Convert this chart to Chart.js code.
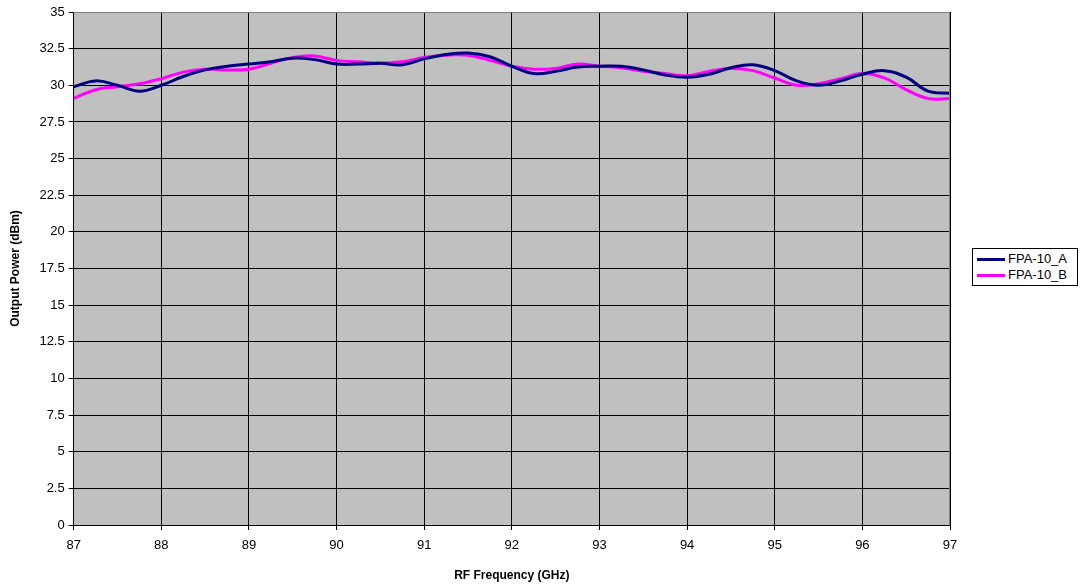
<!DOCTYPE html>
<html>
<head>
<meta charset="utf-8">
<script src="https://cdn.jsdelivr.net/npm/chart.js@4"></script>
<style>
  html, body { margin: 0; padding: 0; background: #fff; }
  #wrap { position: relative; width: 1085px; height: 587px; }
  #legend {
    position: absolute; left: 972px; top: 248px; width: 106px;
    border: 1px solid #000; background: #fff;
    font-family: "Liberation Sans", Arial, sans-serif; font-size: 13px; color: #000;
    padding: 2px 0 2px 4px; box-sizing: border-box;
  }
  #legend div { height: 16px; line-height: 16px; white-space: nowrap; }
  #legend span.l { display: inline-block; width: 28px; height: 3px; vertical-align: middle; margin-right: 3px; }
</style>
</head>
<body>
<div id="wrap">
  <canvas id="chart" width="1085" height="587"></canvas>
  <div id="legend">
    <div><span class="l" style="background:#000080"></span>FPA-10_A</div>
    <div><span class="l" style="background:#ff00ff"></span>FPA-10_B</div>
  </div>
</div>
<script>
// Frecuencias (GHz) y potencia de salida (dBm)
const freqs = [87, 87.25, 87.5, 87.75, 88, 88.25, 88.5, 88.75, 89, 89.25, 89.5, 89.75,
  90, 90.25, 90.5, 90.75, 91, 91.25, 91.5, 91.75, 92, 92.25, 92.5, 92.75,
  93, 93.25, 93.5, 93.75, 94, 94.25, 94.5, 94.75, 95, 95.25, 95.5, 95.75,
  96, 96.25, 96.5, 96.75, 97];
const fpaA = [29.9, 30.3, 30.0, 29.6, 30.0, 30.6, 31.05, 31.3, 31.45, 31.6, 31.85, 31.75,
  31.45, 31.45, 31.5, 31.4, 31.8, 32.1, 32.2, 31.95, 31.3, 30.8, 30.95, 31.25,
  31.3, 31.3, 31.05, 30.7, 30.55, 30.75, 31.2, 31.4, 31.0, 30.3, 30.0, 30.3,
  30.75, 31.0, 30.55, 29.6, 29.45];
const fpaB = [29.1, 29.7, 29.9, 30.1, 30.45, 30.9, 31.1, 31.05, 31.1, 31.5, 31.9, 32.0,
  31.7, 31.6, 31.5, 31.6, 31.9, 32.05, 32.05, 31.7, 31.3, 31.1, 31.15, 31.45,
  31.3, 31.2, 30.95, 30.8, 30.65, 30.95, 31.15, 31.0, 30.5, 30.0, 30.1, 30.45,
  30.8, 30.5, 29.7, 29.1, 29.1];

const toPoints = (ys) => freqs.map((f, i) => ({ x: f, y: ys[i] }));

// Fondo gris del área de trazado
const plotBg = {
  id: 'plotBg',
  beforeDraw(chart) {
    const { ctx, chartArea: a } = chart;
    ctx.save();
    ctx.fillStyle = '#c0c0c0';
    ctx.fillRect(a.left, a.top, a.right - a.left, a.bottom - a.top);
    ctx.restore();
  },
  afterDatasetsDraw(chart) {
    const { ctx, chartArea: a } = chart;
    ctx.save();
    ctx.strokeStyle = '#808080';
    ctx.lineWidth = 1;
    ctx.beginPath();
    ctx.moveTo(a.left, a.top + 0.5);
    ctx.lineTo(a.right - 0.5, a.top + 0.5);
    ctx.lineTo(a.right - 0.5, a.bottom);
    ctx.stroke();
    ctx.restore();
  }
};

const font = { family: '"Liberation Sans", Arial, sans-serif', size: 13 };

new Chart(document.getElementById('chart'), {
  type: 'line',
  data: {
    datasets: [
      {
        label: 'FPA-10_A',
        data: toPoints(fpaA),
        borderColor: '#000080',
        borderWidth: 3,
        pointRadius: 0,
        tension: 0.4,
        fill: false
      },
      {
        label: 'FPA-10_B',
        data: toPoints(fpaB),
        borderColor: '#ff00ff',
        borderWidth: 3,
        pointRadius: 0,
        tension: 0.4,
        fill: false
      }
    ]
  },
  options: {
    responsive: false,
    animation: false,
    layout: { padding: { left: 8, top: 12, right: 135, bottom: 0 } },
    plugins: {
      legend: { display: false },
      tooltip: { enabled: false }
    },
    scales: {
      x: {
        type: 'linear',
        min: 87,
        max: 97,
        ticks: { stepSize: 1, color: '#000', font: font, padding: 8 },
        grid: { color: '#000', lineWidth: 1, tickLength: 5, drawTicks: true },
        border: { color: '#000' },
        title: {
          display: true,
          text: 'RF Frequency (GHz)',
          color: '#000',
          font: { family: font.family, size: 12, weight: 'bold' },
          padding: { top: 7 }
        }
      },
      y: {
        min: 0,
        max: 35,
        ticks: { stepSize: 2.5, color: '#000', font: font, padding: 4 },
        grid: { color: '#000', lineWidth: 1, tickLength: 5 },
        border: { color: '#000' },
        title: {
          display: true,
          text: 'Output Power (dBm)',
          color: '#000',
          font: { family: font.family, size: 12, weight: 'bold' },
          padding: { top: 0, bottom: 13 }
        }
      }
    }
  },
  plugins: [plotBg]
});
</script>
</body>
</html>
